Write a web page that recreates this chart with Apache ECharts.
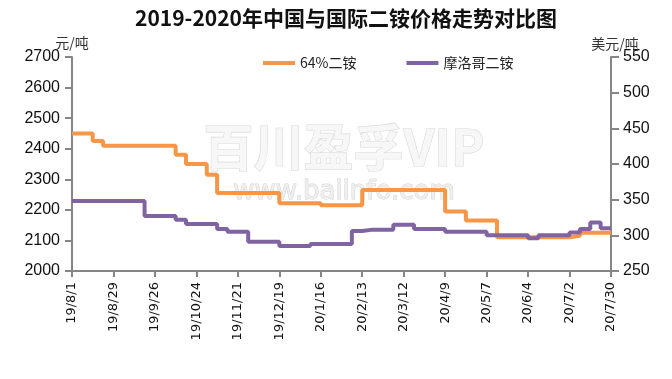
<!DOCTYPE html>
<html><head><meta charset="utf-8">
<script src="https://cdn.jsdelivr.net/npm/echarts@6/dist/echarts.min.js"></script>
<style>html,body{margin:0;padding:0;background:#fff}#c{width:672px;height:379px}</style>
</head><body><div id="c"></div>
<script>
var dates = ['19/8/1','19/8/8','19/8/15','19/8/22','19/8/29','19/9/5','19/9/12','19/9/19','19/9/26','19/10/3','19/10/10','19/10/17','19/10/24','19/10/31','19/11/7','19/11/14','19/11/21','19/11/28','19/12/5','19/12/12','19/12/19','19/12/26','20/1/2','20/1/9','20/1/16','20/1/23','20/1/30','20/2/6','20/2/13','20/2/20','20/2/27','20/3/5','20/3/12','20/3/19','20/3/26','20/4/2','20/4/9','20/4/16','20/4/23','20/4/30','20/5/7','20/5/14','20/5/21','20/5/28','20/6/4','20/6/11','20/6/18','20/6/25','20/7/2','20/7/9','20/7/16','20/7/23','20/7/30'];
var dap64 = [2450,2450,2425,2410,2410,2410,2410,2410,2410,2410,2380,2350,2350,2315,2255,2255,2255,2255,2255,2255,2222,2222,2222,2222,2215,2215,2215,2215,2265,2265,2265,2265,2265,2265,2265,2265,2195,2195,2165,2165,2165,2110,2110,2110,2110,2110,2110,2110,2115,2125,2125,2125,2125];
var moroccoDap = [348,348,348,348,348,348,348,327,327,327,322,316,316,316,309,305,305,291,291,291,285,285,285,288,288,288,288,306,308,308,308,315,315,309,309,309,305,305,305,305,300,300,300,300,296,300,300,300,304,309,318,310,310];
var leftTicks = {min:2000, max:2700, interval:100};
var rightTicks = {min:250, max:550, interval:50};
var seriesNames = ['64%二铵','摩洛哥二铵'];

var chart = echarts.init(document.getElementById('c'));
var axisLine = {show:true, lineStyle:{color:'#868686', width:2}};
var plain = function (v) { return String(v); };
chart.setOption({
  animation:false,
  backgroundColor:'#fff',
  grid:{left:72, right:61, top:57, bottom:108},
  legend:{
    top:51, left:258, itemGap:50, itemWidth:32, itemHeight:4, icon:'rect',
    textStyle:{fontSize:14, color:'#222', fontFamily:'Noto Sans CJK SC'},
    data:seriesNames
  },
  graphic:[
    {type:'text', x:346, y:18, z:10, style:{text:'2019-2020年中国与国际二铵价格走势对比图', textAlign:'center', textVerticalAlign:'middle', font:'bold 21px "Noto Sans CJK SC"', fill:'#111'}},
    {type:'text', x:72, y:43, z:10, style:{text:'元/吨', textAlign:'center', textVerticalAlign:'middle', font:'14px "Noto Sans CJK SC"', fill:'#333'}},
    {type:'text', x:615, y:44, z:10, style:{text:'美元/吨', textAlign:'center', textVerticalAlign:'middle', font:'14px "Noto Sans CJK SC"', fill:'#333'}},
    {type:'text', x:344, y:147, z:-1, silent:true, style:{text:'百川盈孚VIP', textAlign:'center', textVerticalAlign:'middle', font:'bold 50px "Noto Sans CJK SC"', fill:'#f7f7f7', stroke:'#d9d9d9', lineWidth:1.2}},
    {type:'text', x:344, y:192, z:-1, silent:true, style:{text:'www.baiinfo.com', textAlign:'center', textVerticalAlign:'middle', font:'26px "DejaVu Sans"', fill:'#efefef', stroke:'#d2d2d2', lineWidth:1}}
  ],
  xAxis:{
    type:'category', data:dates, boundaryGap:false,
    axisLine:axisLine,
    axisTick:{show:true, interval:3, length:6, lineStyle:{color:'#868686', width:2}},
    axisLabel:{interval:3, rotate:90, margin:11, fontSize:13, color:'#111', fontFamily:'DejaVu Sans'},
    splitLine:{show:false}
  },
  yAxis:[
    {type:'value', min:leftTicks.min, max:leftTicks.max, interval:leftTicks.interval, position:'left',
     axisLine:axisLine, axisTick:{show:true, length:7, lineStyle:{color:'#868686', width:2}},
     axisLabel:{margin:12, fontSize:16, color:'#111', fontFamily:'Liberation Sans', formatter:plain}, splitLine:{show:false}},
    {type:'value', min:rightTicks.min, max:rightTicks.max, interval:rightTicks.interval, position:'right',
     axisLine:axisLine, axisTick:{show:true, length:8, lineStyle:{color:'#868686', width:2}},
     axisLabel:{margin:12, fontSize:16, color:'#111', fontFamily:'Liberation Sans', formatter:plain}, splitLine:{show:false}}
  ],
  series:[
    {name:seriesNames[0], type:'line', step:'end', yAxisIndex:0, data:dap64, symbol:'none', color:'#F79646', lineStyle:{width:4, color:'#F79646'}},
    {name:seriesNames[1], type:'line', step:'end', yAxisIndex:1, data:moroccoDap, symbol:'none', color:'#8064A2', lineStyle:{width:4, color:'#8064A2'}}
  ]
});
</script></body></html>
